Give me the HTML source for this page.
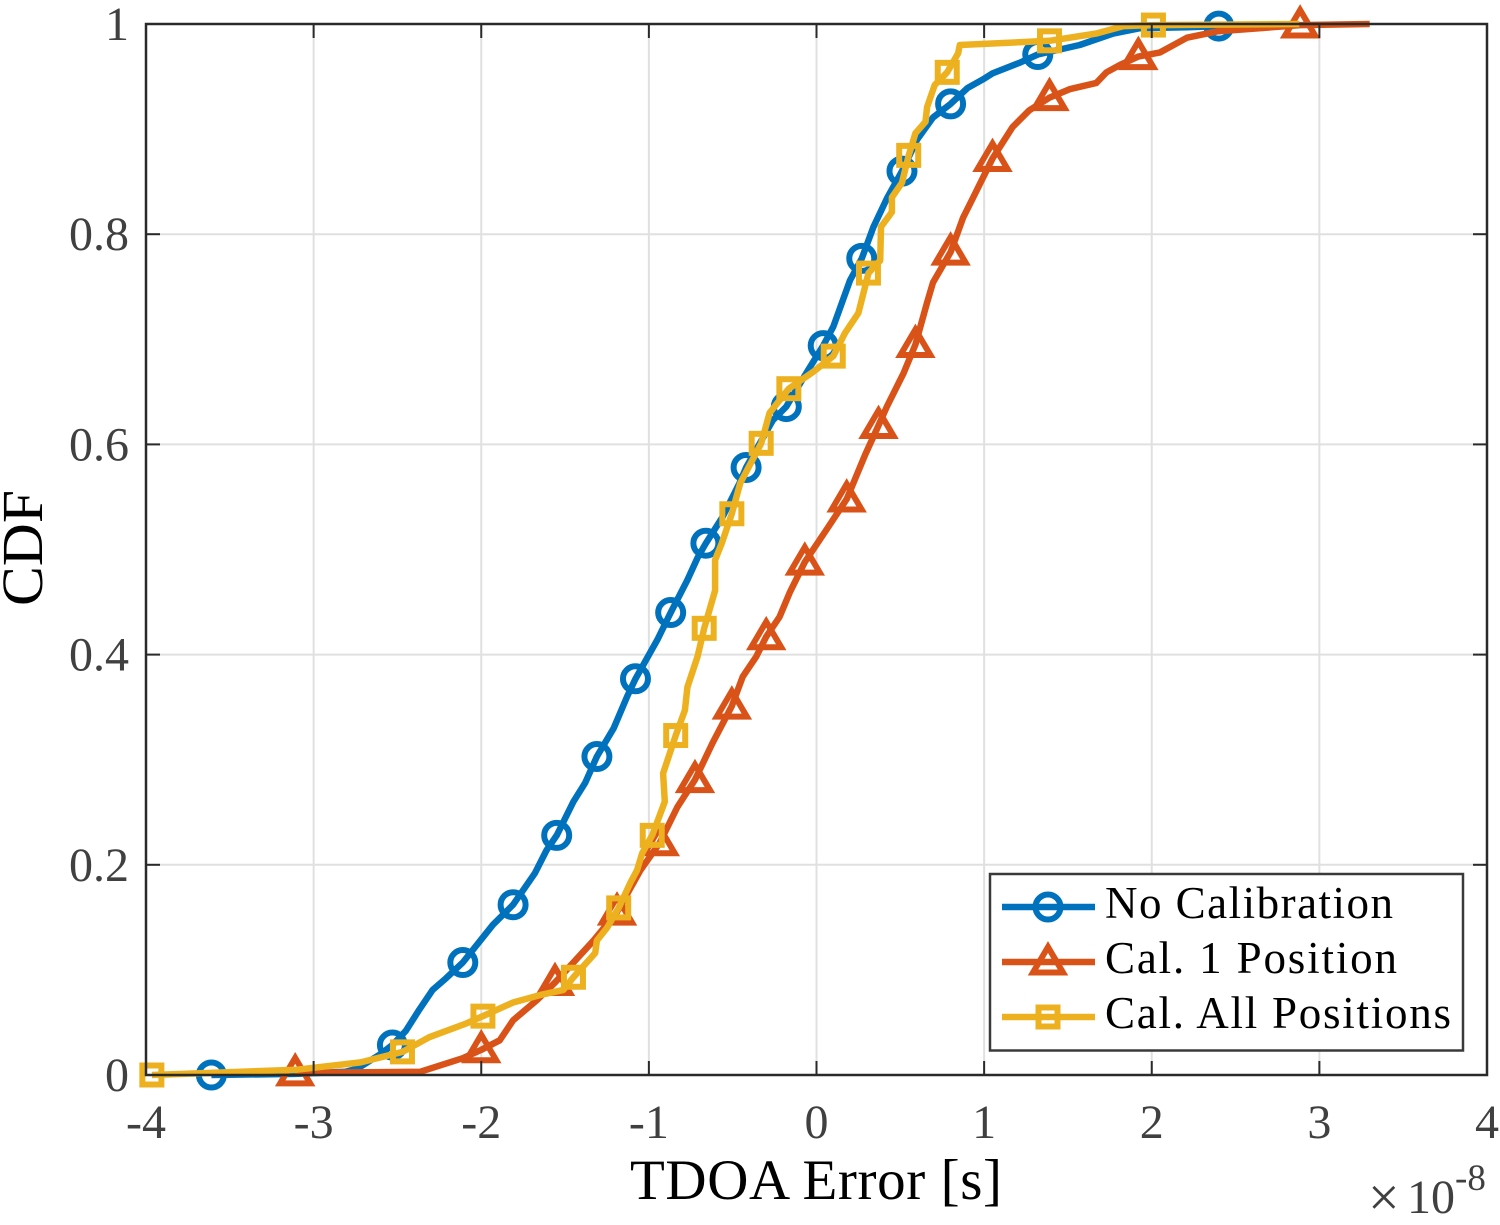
<!DOCTYPE html>
<html lang="en">
<head>
<meta charset="utf-8">
<title>TDOA Error CDF</title>
<style>
html,body{margin:0;padding:0;background:#fff;}
svg{display:block;}
text{font-family:"Liberation Serif",serif;}
</style>
</head>
<body>
<svg id="chart" xmlns="http://www.w3.org/2000/svg" width="1500" height="1225" viewBox="0 0 1500 1225">
  <rect x="0" y="0" width="1500" height="1225" fill="#ffffff"/>
  <g id="grid"></g>
  <g id="series"></g>
  <g id="axes"></g>
  <g id="xticks"></g>
  <g id="yticks"></g>
  <text transform="translate(42,606) rotate(-90)" font-size="58" fill="#000" textLength="116" lengthAdjust="spacingAndGlyphs">CDF</text>
  <text x="630" y="1199" font-size="57" fill="#000" textLength="372" lengthAdjust="spacing">TDOA Error [s]</text>
  <g fill="#404040">
    <text x="1368" y="1216" font-size="56">×</text>
    <text x="1407" y="1213" font-size="48">10</text>
    <text x="1455" y="1190" font-size="37">-8</text>
  </g>
  <g>
    <rect x="990" y="874" width="473" height="176.5" fill="#ffffff" stroke="#3a3a3a" stroke-width="2.5"/>
    <g>
      <line x1="1002" y1="907" x2="1095" y2="907" stroke="#0072BD" stroke-width="6.5"/>
      <circle cx="1048" cy="907" r="12.5" fill="none" stroke="#0072BD" stroke-width="6"/>
      <text x="1105" y="918" font-size="45" fill="#000" textLength="288" lengthAdjust="spacing">No Calibration</text>
    </g>
    <g>
      <line x1="1002" y1="962" x2="1095" y2="962" stroke="#D95319" stroke-width="6.5"/>
      <polygon points="1048,947 1063,972.5 1033,972.5" fill="none" stroke="#D95319" stroke-width="6" stroke-miterlimit="10"/>
      <text x="1105" y="973" font-size="45" fill="#000" textLength="292" lengthAdjust="spacing">Cal. 1 Position</text>
    </g>
    <g>
      <line x1="1002" y1="1017" x2="1095" y2="1017" stroke="#EDB120" stroke-width="6.5"/>
      <rect x="1038.5" y="1007.5" width="19" height="19" fill="none" stroke="#EDB120" stroke-width="6"/>
      <text x="1105" y="1028" font-size="45" fill="#000" textLength="346" lengthAdjust="spacing">Cal. All Positions</text>
    </g>
  </g>
</svg>
<script>
// Axis tick values and labels
const xTicks = [-4, -3, -2, -1, 0, 1, 2, 3, 4];
const xTickLabels = ["-4", "-3", "-2", "-1", "0", "1", "2", "3", "4"];
const yTicks = [0, 0.2, 0.4, 0.6, 0.8, 1];
const yTickLabels = ["0", "0.2", "0.4", "0.6", "0.8", "1"];

// No Calibration (x in units of 1e-8 s, y = CDF)
const noCalX = [-3.61,-3.11,-2.81,-2.74,-2.60,-2.53,-2.45,-2.37,-2.29,-2.21,-2.11,-1.93,-1.81,-1.68,-1.61,-1.55,-1.45,-1.38,-1.31,-1.21,-1.13,-1.08,-0.95,-0.87,-0.77,-0.71,-0.66,-0.56,-0.46,-0.42,-0.26,-0.18,-0.06,0.04,0.10,0.20,0.27,0.34,0.42,0.51,0.60,0.695,0.80,0.90,0.99,1.05,1.21,1.32,1.57,1.77,1.93,2.21,2.40,2.88];
const noCalY = [0,0.001,0.003,0.006,0.02,0.0285,0.042,0.062,0.081,0.092,0.107,0.143,0.162,0.192,0.214,0.228,0.26,0.278,0.303,0.33,0.36,0.377,0.414,0.44,0.471,0.492,0.506,0.531,0.563,0.578,0.623,0.636,0.668,0.694,0.712,0.756,0.777,0.807,0.834,0.86,0.89,0.911,0.924,0.939,0.947,0.953,0.963,0.971,0.98,0.991,0.996,0.997,0.998,0.999];
const noCalMarkers = [0,5,10,12,15,18,21,23,26,29,31,33,36,39,42,47,52];

// Cal. 1 Position
const cal1X = [-3.11,-2.365,-2.11,-2.0,-1.89,-1.81,-1.67,-1.56,-1.33,-1.19,-1.05,-0.935,-0.83,-0.725,-0.62,-0.505,-0.44,-0.36,-0.30,-0.22,-0.16,-0.07,0.06,0.18,0.29,0.37,0.42,0.52,0.59,0.66,0.695,0.80,0.875,0.935,1.05,1.17,1.27,1.39,1.51,1.67,1.73,1.81,1.92,2.05,2.21,2.39,2.885,3.30];
const cal1Y = [0.002,0.003,0.016,0.024,0.033,0.052,0.071,0.088,0.128,0.155,0.195,0.221,0.255,0.281,0.316,0.351,0.379,0.398,0.417,0.436,0.459,0.488,0.519,0.548,0.59,0.618,0.636,0.668,0.695,0.735,0.754,0.783,0.816,0.835,0.872,0.902,0.918,0.93,0.938,0.944,0.954,0.961,0.969,0.973,0.987,0.993,0.999,1.0];
const cal1Markers = [0,3,7,9,11,13,15,18,21,23,25,28,31,34,37,42,46];

// Cal. All Positions
const calAllX = [-3.965,-3.10,-2.72,-2.47,-2.31,-2.09,-1.99,-1.81,-1.65,-1.51,-1.45,-1.32,-1.31,-1.25,-1.18,-1.11,-1.07,-1.04,-0.98,-0.905,-0.915,-0.84,-0.785,-0.77,-0.71,-0.67,-0.605,-0.605,-0.565,-0.505,-0.455,-0.33,-0.28,-0.165,-0.02,0.10,0.17,0.25,0.31,0.38,0.385,0.45,0.45,0.51,0.55,0.59,0.65,0.66,0.705,0.78,0.845,0.855,1.39,1.67,1.83,2.01,2.88];
const calAllY = [0,0.005,0.012,0.022,0.036,0.049,0.056,0.069,0.076,0.081,0.093,0.116,0.128,0.14,0.159,0.183,0.195,0.211,0.228,0.26,0.287,0.323,0.347,0.369,0.398,0.425,0.461,0.49,0.506,0.534,0.563,0.601,0.63,0.653,0.669,0.684,0.706,0.725,0.763,0.775,0.807,0.821,0.835,0.849,0.875,0.896,0.907,0.921,0.942,0.954,0.972,0.98,0.984,0.991,0.998,0.999,1.0];
const calAllMarkers = [0,3,6,10,14,18,21,25,29,31,33,35,38,44,49,52,55];

const NS = "http://www.w3.org/2000/svg";
const plotLeft = 146, plotRight = 1487, plotTop = 24, plotBottom = 1075;
const xMin = -4, xMax = 4, yMin = 0, yMax = 1;
function xScale(v) { return plotLeft + (v - xMin) / (xMax - xMin) * (plotRight - plotLeft); }
function yScale(v) { return plotBottom - (v - yMin) / (yMax - yMin) * (plotBottom - plotTop); }
function make(tag, attrs, parent) {
  const el = document.createElementNS(NS, tag);
  for (const k in attrs) el.setAttribute(k, attrs[k]);
  parent.appendChild(el);
  return el;
}

const gridG = document.getElementById("grid");
const axesG = document.getElementById("axes");
const xtG = document.getElementById("xticks");
const ytG = document.getElementById("yticks");
const seriesG = document.getElementById("series");
const axisColor = "#2a2a2a";
const tickLen = 14;

xTicks.forEach(function (t, i) {
  const x = xScale(t);
  const g = make("line", { x1: x, y1: plotTop, x2: x, y2: plotBottom, stroke: "#e0e0e0", "stroke-width": 2 }, gridG);
  
  
  const a = make("line", { x1: x, y1: plotBottom, x2: x, y2: plotBottom - tickLen, stroke: axisColor, "stroke-width": 2 }, axesG);
  
  
  const b = make("line", { x1: x, y1: plotTop, x2: x, y2: plotTop + tickLen, stroke: axisColor, "stroke-width": 2 }, axesG);
  
  
  const lab = make("text", { x: x, y: 1138, "font-size": 48, fill: "#404040", "text-anchor": "middle" }, xtG);
  
  
  lab.textContent = xTickLabels[i];
});

yTicks.forEach(function (t, i) {
  const y = yScale(t);
  const g = make("line", { x1: plotLeft, y1: y, x2: plotRight, y2: y, stroke: "#e0e0e0", "stroke-width": 2 }, gridG);
  
  
  const a = make("line", { x1: plotLeft, y1: y, x2: plotLeft + tickLen, y2: y, stroke: axisColor, "stroke-width": 2 }, axesG);
  
  
  const b = make("line", { x1: plotRight, y1: y, x2: plotRight - tickLen, y2: y, stroke: axisColor, "stroke-width": 2 }, axesG);
  
  
  const lab = make("text", { x: 129, y: y + 16, "font-size": 48, fill: "#404040", "text-anchor": "end" }, ytG);
  
  
  lab.textContent = yTickLabels[i];
});

const frame = make("rect", { x: plotLeft, y: plotTop, width: plotRight - plotLeft, height: plotBottom - plotTop, fill: "none", stroke: axisColor, "stroke-width": 2.5 }, axesG);



function drawMarker(kind, cx, cy, color, parent) {
  let m;
  if (kind === "circle") {
    m = make("circle", { cx: cx, cy: cy, r: 12.5, fill: "none", stroke: color, "stroke-width": 6 }, parent);
  } else if (kind === "triangle") {
    const pts = [[cx, cy - 15], [cx + 15, cy + 10.5], [cx - 15, cy + 10.5]].map(function (p) { return p.join(","); }).join(" ");
    m = make("polygon", { points: pts, fill: "none", stroke: color, "stroke-width": 6, "stroke-miterlimit": 10 }, parent);
  } else {
    m = make("rect", { x: cx - 9.5, y: cy - 9.5, width: 19, height: 19, fill: "none", stroke: color, "stroke-width": 6 }, parent);
  }
  
  
}

function drawSeries(name, xs, ys, markers, kind, color) {
  const g = make("g", {}, seriesG);
  
  
  const d = xs.map(function (v, i) { return (i ? "L" : "M") + xScale(v).toFixed(1) + " " + yScale(ys[i]).toFixed(1); }).join("");
  const p = make("path", { d: d, fill: "none", stroke: color, "stroke-width": 6.5, "stroke-linejoin": "round", "stroke-linecap": "butt" }, g);
  
  
  markers.forEach(function (idx) {
    drawMarker(kind, xScale(xs[idx]), yScale(ys[idx]), color, g);
  });
}

drawSeries("series-no-calibration", noCalX, noCalY, noCalMarkers, "circle", "#0072BD");
drawSeries("series-cal-1-position", cal1X, cal1Y, cal1Markers, "triangle", "#D95319");
drawSeries("series-cal-all-positions", calAllX, calAllY, calAllMarkers, "square", "#EDB120");
</script>
</body>
</html>
